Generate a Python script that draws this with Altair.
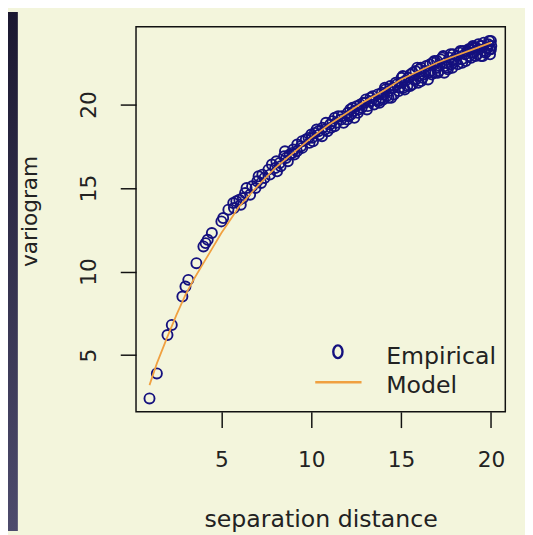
import altair as alt
import pandas as pd

# Empirical variogram
emp_x = [1.00, 1.41, 2.00, 2.24, 2.83, 3.00, 3.16, 3.61, 4.00, 4.12, 4.24, 4.47,
         5.00, 5.10, 5.39, 5.66, 5.83, 6.00, 6.08, 6.32, 6.40, 6.71, 7.00, 7.07,
         7.21, 7.28, 7.62, 7.81, 8.00, 8.06, 8.25, 8.49, 8.54, 8.60, 8.94, 9.00,
         9.06, 9.22, 9.43, 9.49, 9.85, 9.90, 10.00, 10.05, 10.20, 10.30, 10.44, 10.63,
         10.77, 10.82, 11.05, 11.18, 11.31, 11.40, 11.66, 11.70, 12.04, 12.08, 12.17, 12.21,
         12.37, 12.53, 12.65, 12.73, 12.81, 13.00, 13.04, 13.15, 13.34, 13.42, 13.60, 13.89,
         13.93, 14.04, 14.14, 14.21, 14.32, 14.56, 14.76, 14.87, 15.00, 15.03, 15.13, 15.23,
         15.52, 15.62, 15.65, 15.81, 16.00, 16.03, 16.12, 16.28, 16.40, 16.55, 16.64, 16.76,
         16.97, 17.00, 17.09, 17.20, 17.46, 17.69, 17.80, 17.89, 18.03, 18.11, 18.25, 18.38,
         18.68, 18.79, 18.87, 19.03, 19.10, 19.24, 19.42, 19.65, 19.85, 19.92, 20.00, 20.02,
         16.90, 17.35, 17.55, 18.45, 18.95, 19.30, 19.55, 19.75, 15.35, 15.90, 14.45, 13.75,
         5.70, 6.20, 6.60, 6.90, 7.40, 7.70, 8.10, 8.30, 8.70, 8.80,
         9.20, 9.50, 9.70, 10.10, 10.40, 10.60, 10.90, 11.10, 11.30, 11.50, 11.80, 12.00,
         12.30, 12.40, 12.60, 12.90, 13.10, 13.30, 13.50, 13.70, 13.80, 14.00, 14.10, 14.30,
         14.40, 14.60, 14.70, 14.90, 15.10, 15.20, 15.40, 15.50, 15.70, 15.80, 15.95, 16.10,
         16.20, 16.35, 16.50, 16.60, 16.70, 16.85, 17.05, 17.15, 17.30, 17.40, 17.50, 17.60,
         17.75, 17.85, 17.95, 18.15, 18.30, 18.40, 18.55, 18.60, 18.75, 18.90, 19.00, 19.15,
         19.35, 19.45, 19.60, 19.70, 19.80, 19.95, 20.00, 19.90]
emp_y = [2.4, 3.9, 6.2, 6.8, 8.5, 9.1, 9.5, 10.5, 11.5, 11.7, 11.9, 12.3,
         13.0, 13.2, 13.7, 14.1, 14.2, 14.3, 14.0, 14.7, 15.0, 15.1, 15.4, 15.7,
         15.3, 15.8, 16.1, 16.4, 16.2, 16.6, 16.5, 16.9, 17.2, 16.8, 17.1, 17.3,
         17.0, 17.6, 17.5, 17.8, 18.0, 17.7, 18.2, 18.0, 18.3, 18.5, 18.2, 18.6,
         18.5, 18.9, 18.8, 19.0, 19.2, 18.9, 19.1, 19.3, 19.5, 19.3, 19.7, 19.4,
         19.6, 19.9, 19.7, 20.0, 19.8, 20.1, 20.3, 19.9, 20.2, 20.5, 20.3, 20.4,
         20.7, 20.6, 20.9, 20.5, 20.8, 21.0, 21.2, 20.8, 21.3, 21.6, 21.0, 21.4,
         21.8, 21.2, 21.9, 21.5, 21.7, 22.1, 21.4, 21.8, 22.3, 21.9, 22.0, 22.5,
         22.2, 22.6, 22.0, 22.7, 22.3, 22.8, 22.4, 23.0, 22.6, 22.9, 23.1, 22.7,
         23.2, 22.9, 23.3, 23.1, 23.4, 23.0, 23.5, 23.2, 23.6, 23.3, 23.8, 23.5,
         21.9, 22.9, 22.2, 23.2, 23.4, 23.6, 22.9, 23.4, 21.1, 22.2, 20.4, 20.2,
         13.8, 14.4, 14.6, 15.0, 15.6, 15.8, 16.0, 16.3, 16.6, 17.0,
         17.2, 17.4, 17.9, 17.8, 18.4, 18.1, 18.4, 18.6, 18.7, 19.3, 18.9, 19.1,
         19.8, 19.2, 19.5, 20.1, 19.7, 20.4, 20.0, 20.6, 20.1, 20.3, 21.0, 20.4,
         21.1, 20.6, 21.3, 21.0, 21.7, 20.9, 21.6, 21.1, 21.5, 22.0, 21.3, 22.2,
         21.6, 22.0, 21.5, 22.4, 21.8, 22.6, 21.9, 22.3, 22.8, 21.9, 22.5, 22.1,
         23.0, 22.2, 22.7, 22.4, 23.2, 22.5, 23.0, 22.6, 23.3, 22.8, 23.5, 22.9,
         23.3, 22.9, 23.7, 23.1, 23.4, 23.0, 23.3, 23.8]

# Fitted model
mod_x = [1.0, 1.41, 2.0, 2.5, 3.0, 3.5, 4.0, 4.5, 5.0, 5.5, 6.0, 7.0, 8.0, 9.0,
         10.0, 11.0, 12.0, 13.0, 14.0, 15.0, 16.0, 17.0, 18.0, 19.0, 20.0]
mod_y = [3.2, 4.5, 6.1, 7.4, 8.6, 9.6, 10.5, 11.4, 12.3, 13.1, 13.9, 15.1, 16.2, 17.1,
         18.0, 18.8, 19.5, 20.2, 20.8, 21.5, 22.0, 22.5, 22.9, 23.3, 23.7]

x_ticks = [5, 10, 15, 20]
y_ticks = [5, 10, 15, 20]
legend_labels = ["Empirical", "Model"]

emp = pd.DataFrame({"d": emp_x, "g": emp_y})
mod = pd.DataFrame({"d": mod_x, "g": mod_y})
one = pd.DataFrame({"k": [0]})

W, H = 375, 391
FONT = "DejaVu Sans"
NAVY = "#14107e"
ORANGE = "#F0A040"

xs = alt.Scale(domain=[0.25, 20.8], nice=False, zero=False)
ys = alt.Scale(domain=[1.6, 24.65], nice=False, zero=False)

xax = alt.Axis(values=x_ticks, format="d", title="separation distance", domain=False, grid=False,
               tickSize=16, tickWidth=1.5, tickColor="#111", labelFont=FONT, labelFontSize=22,
               labelColor="#222", labelBaseline="alphabetic", labelPadding=40, labelFlush=False,
               titleFont=FONT, titleFontSize=24, titleFontWeight="normal", titleColor="#222",
               titleBaseline="alphabetic", titleY=116, titleX=W / 2, titleAlign="center")
yax = alt.Axis(values=y_ticks, format="d", title="variogram", domain=False, grid=False,
               tickSize=16, tickWidth=1.5, tickColor="#111", labelFont=FONT, labelFontSize=22,
               labelColor="#222", labelAngle=270, labelAlign="center", labelBaseline="alphabetic",
               labelPadding=25, labelFlush=False,
               titleFont=FONT, titleFontSize=22, titleFontWeight="normal", titleColor="#222",
               titleAngle=270, titleAlign="center", titleBaseline="alphabetic", titleX=-101, titleY=187)

strip = alt.Chart(one).mark_rect(
    color=alt.Gradient(gradient="linear",
                       stops=[alt.GradientStop(color="#1b1830", offset=0),
                              alt.GradientStop(color="#4d4b6c", offset=1)],
                       x1=0, x2=0, y1=0, y2=1)
).encode(x=alt.value(-130), x2=alt.value(-120), y=alt.value(-15), y2=alt.value(H + 121))

points = alt.Chart(emp).mark_point(shape="circle", size=105, filled=False, color=NAVY,
                                   strokeWidth=1.9, opacity=1).encode(
    x=alt.X("d:Q", scale=xs, axis=xax),
    y=alt.Y("g:Q", scale=ys, axis=yax),
)

line = alt.Chart(mod).mark_line(color=ORANGE, strokeWidth=1.8).encode(
    x=alt.X("d:Q", scale=xs),
    y=alt.Y("g:Q", scale=ys),
)

leg_sym = alt.Chart(one).mark_point(
    shape="M0,-1 A0.72,1 0 1,1 0,1 A0.72,1 0 1,1 0,-1 Z", size=169, filled=False,
    color=NAVY, strokeWidth=2.4, opacity=1
).encode(x=alt.value(205), y=alt.value(330))

leg_line = alt.Chart(one).mark_rule(color=ORANGE, strokeWidth=2.5).encode(
    x=alt.value(182), x2=alt.value(229), y=alt.value(361))

leg_t1 = alt.Chart(one).mark_text(text=legend_labels[0], font=FONT, fontSize=24, align="left",
                                  baseline="alphabetic", color="#222").encode(
    x=alt.value(254), y=alt.value(342))
leg_t2 = alt.Chart(one).mark_text(text=legend_labels[1], font=FONT, fontSize=24, align="left",
                                  baseline="alphabetic", color="#222").encode(
    x=alt.value(254), y=alt.value(372))

chart = alt.layer(strip, points, line, leg_sym, leg_line, leg_t1, leg_t2).properties(
    width=W, height=H,
    autosize=alt.AutoSizeParams(type="none"),
    padding={"left": 130, "top": 15, "right": 20, "bottom": 121},
    background="#F3F5DC",
).configure_view(stroke="#111", strokeWidth=1.5).configure_axis(zindex=1)

chart.save("out.html", embed_options={"renderer": "svg", "actions": False})
